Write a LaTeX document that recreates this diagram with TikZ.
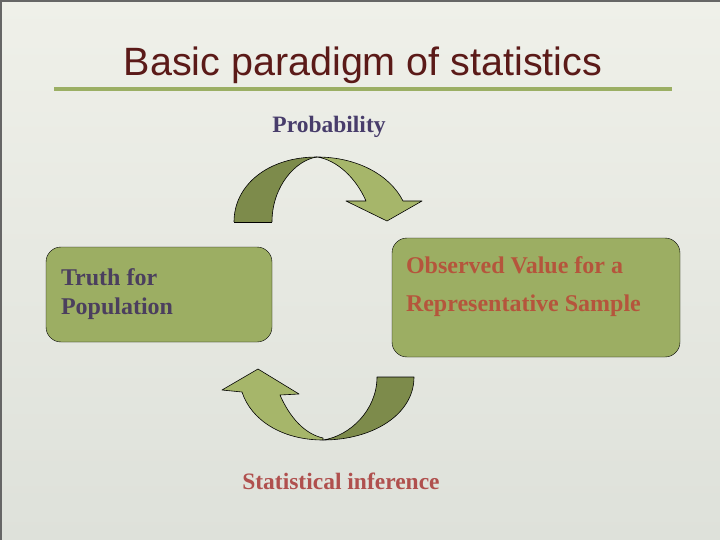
\documentclass[tikz,border=0pt]{standalone}
\usepackage{fontspec}
\setmainfont{Liberation Serif}
\newfontfamily\titlefont{Liberation Sans}
\usetikzlibrary{positioning, calc}

\definecolor{bgtop}{RGB}{239,240,233}
\definecolor{bgbot}{RGB}{222,225,218}
\definecolor{titlered}{RGB}{91,26,24}
\definecolor{rulegreen}{RGB}{155,175,100}
\definecolor{boxgreen}{RGB}{156,174,99}
\definecolor{darkband}{RGB}{125,139,75}
\definecolor{lightband}{RGB}{166,182,106}
\definecolor{probpurple}{RGB}{72,61,107}
\definecolor{truthgray}{RGB}{75,63,94}
\definecolor{obsred}{RGB}{181,85,60}
\definecolor{infred}{RGB}{176,80,78}

\tikzset{
    paneltext/.style={font=\fontsize{24}{29}\selectfont\bfseries, align=left, inner sep=0pt},
    bandline/.style={draw=black, line width=0.6pt, line join=round}
}

\begin{document}
\begin{tikzpicture}[x=1pt, y=-1pt]
    \shade[top color=bgtop, bottom color=bgbot] (0,0) rectangle (720,540);
    \useasboundingbox (0,0) rectangle (720,540);
    \draw[gray!80!black, line width=2pt] (1,540) -- (1,1) -- (720,1);

    \node (title) at (363,65) [text=titlered, font=\titlefont\fontsize{39.5}{41}\selectfont] {Basic paradigm of statistics};
    \coordinate (rule left) at (54,89);
    \coordinate (rule right) at (672,89);
    \draw[rulegreen, line width=4pt] (rule left) -- (rule right);

    \node (probability) at (329,127) [text=probpurple, font=\fontsize{23.5}{28}\selectfont\bfseries] {Probability};

    \node (truth box) at (159,294.5) [draw, fill=boxgreen, rounded corners=15pt, minimum width=226pt, minimum height=95pt] {};
    \node (observed box) at (536,297.5) [draw, fill=boxgreen, rounded corners=15pt, minimum width=288pt, minimum height=119pt] {};

    \node[xshift=15pt, right=0pt of truth box.west, anchor=west, paneltext, text=truthgray] (truth) {Truth for\\Population};
    \node[xshift=14pt, yshift=11pt, right=0pt of observed box.west, anchor=west, paneltext, text=obsred,
          font=\fontsize{24}{38}\selectfont\bfseries] (observed) {Observed Value for a\\Representative Sample};

    \node (inference) at (341,481) [text=infred, font=\fontsize{23.5}{28}\selectfont\bfseries] {Statistical inference};

    % upper curved arrow
    \fill[darkband] (234,222) .. controls (234,185) and (268,157) .. (317,157)
        .. controls (296,160) and (272,186) .. (272,222) -- cycle;
    \draw[bandline] (234,222) .. controls (234,185) and (268,157) .. (317,157);
    \draw[bandline] (272,222) .. controls (272,186) and (296,160) .. (317,157);
    \draw[bandline] (234,222) -- (272,222);
    \filldraw[bandline, fill=lightband] (317,157) .. controls (357,157) and (390,175) .. (403,201)
        -- (422,201) -- (387,221) -- (346,201) -- (366,201)
        .. controls (356,178) and (337,160) .. (317,157) -- cycle;

    % lower curved arrow
    \filldraw[bandline, fill=darkband] (414,377) .. controls (414,415) and (372,440) .. (323,440)
        .. controls (350,436) and (377,410) .. (377,377) -- cycle;
    \filldraw[bandline, fill=lightband] (323,440) .. controls (282,440) and (251,420) .. (242,392)
        -- (222,390) -- (258,369) -- (299,394) -- (280,395)
        .. controls (290,418) and (305,434) .. (323,438) -- cycle;
\end{tikzpicture}
\end{document}
